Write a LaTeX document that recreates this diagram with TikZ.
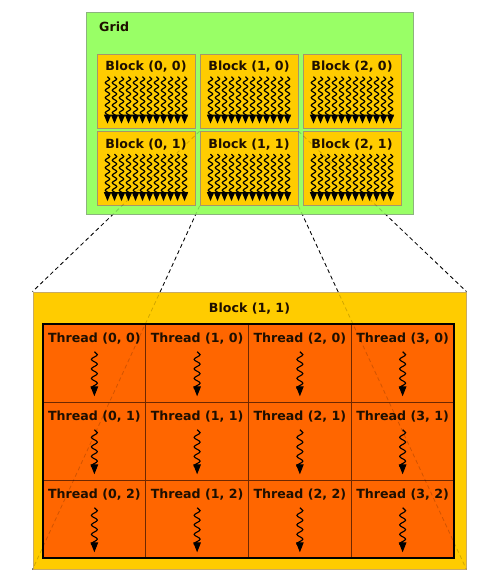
\documentclass[tikz,border=0pt]{standalone}
\usepackage{fontspec}
\setmainfont{DejaVu Sans}
\usetikzlibrary{arrows.meta,decorations.pathmorphing,positioning}
\definecolor{gridGreen}{RGB}{153,255,102}
\definecolor{gridEdge}{RGB}{140,180,125}
\definecolor{blockGold}{RGB}{255,204,0}
\definecolor{blockEdge}{RGB}{165,150,105}
\definecolor{bigEdge}{RGB}{200,170,100}
\definecolor{threadOrange}{RGB}{255,102,0}
\definecolor{threadEdge}{RGB}{110,40,0}
\definecolor{inkDark}{RGB}{30,15,0}
\newcommand{\lbl}[1]{{\fontsize{12.6}{13}\selectfont\bfseries\color{inkDark}#1}}
\pgfdeclarelayer{back}
\pgfsetlayers{back,main}
\tikzset{
  gridbox/.style={draw=gridEdge,fill=gridGreen,line width=.9pt,minimum width=327pt,minimum height=202pt,inner sep=0pt},
  blockbox/.style={draw=blockEdge,fill=blockGold,line width=.7pt,minimum width=98pt,minimum height=74pt,inner sep=0pt},
  bigbox/.style={draw=bigEdge,fill=blockGold,line width=.9pt,minimum width=433pt,minimum height=277pt,inner sep=0pt},
  threadcell/.style={draw=threadEdge,fill=threadOrange,line width=.7pt,minimum width=102.75pt,minimum height=78pt,inner sep=0pt},
  tag/.style={inner sep=0pt},
  tinysquig/.style={line width=1.2pt,decorate,decoration={snake,amplitude=2.2pt,segment length=7.5pt,post length=2pt},-{Triangle[width=7pt,length=9pt]}},
  threadsquig/.style={line width=1.1pt,decorate,decoration={snake,amplitude=3pt,segment length=9.5pt,post length=2pt},-{Triangle[width=7.5pt,length=10pt]}},
  cornerline/.style={dash pattern=on 4pt off 3pt,line width=.8pt}
}
\begin{document}
\begin{tikzpicture}[x=1pt,y=-1pt]
\useasboundingbox (0,0) rectangle (500,587);
% the grid
\node[gridbox] (grid) at (249.5,113) {};
\node[tag,anchor=west] (gridlbl) at (99,27) {\lbl{Grid}};
\foreach \c in {0,1,2}{
  \foreach \r in {0,1}{
    \node[blockbox] (b\c\r) at ({146+103*\c},{91+77.5*\r}) {};
    \node[tag] (bl\c\r) at ([yshift=-13pt]b\c\r.north) {\lbl{Block (\c, \r)}};
    \foreach \k in {0,...,11}
      \draw[tinysquig] ([xshift={-38.5pt+7pt*\k},yshift=-23pt]b\c\r.north) -- ++(0,47);
  }
}
% the block, enlarged
\node[bigbox] (big) at (249.5,430.5) {};
\node[tag] (biglbl) at (249.5,309) {\lbl{Block (1, 1)}};
\foreach \i in {0,...,3}{
  \foreach \j in {0,1,2}{
    \node[threadcell] (t\i\j) at ({94.375+102.75*\i},{363+78*\j}) {};
    \node[tag] (tl\i\j) at ([yshift=-15pt]t\i\j.north) {\lbl{Thread (\i, \j)}};
    \draw[threadsquig] ([yshift=-28pt]t\i\j.north) -- ([yshift=6pt]t\i\j.south);
  }
}
\node[draw=black,line width=1.6pt,minimum width=411pt,minimum height=234pt,inner sep=0pt] (threads) at (248.5,441) {};
% corner lines, under the boxes and faintly over them
\begin{pgfonlayer}{back}
\draw[cornerline] (b11.north west) -- (big.north west);
\draw[cornerline] (b11.north east) -- (big.north east);
\draw[cornerline] (b11.south west) -- (big.south west);
\draw[cornerline] (b11.south east) -- (big.south east);
\end{pgfonlayer}
\draw[cornerline,draw opacity=.18] (b11.north west) -- (big.north west);
\draw[cornerline,draw opacity=.18] (b11.north east) -- (big.north east);
\draw[cornerline,draw opacity=.18] (b11.south west) -- (big.south west);
\draw[cornerline,draw opacity=.18] (b11.south east) -- (big.south east);
\end{tikzpicture}
\end{document}
